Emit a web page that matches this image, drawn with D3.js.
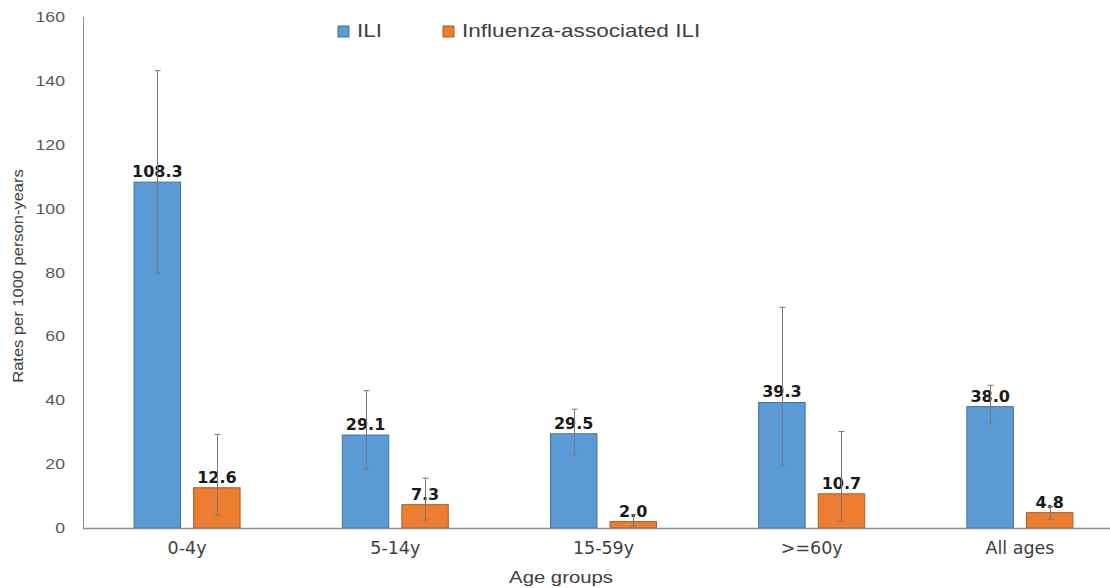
<!DOCTYPE html>
<html>
<head>
<meta charset="utf-8">
<script src="https://cdn.jsdelivr.net/npm/d3@7"></script>
<style>
  body { margin: 0; background: #fff; }
  svg { display: block; }
</style>
</head>
<body>
<svg id="chart"></svg>
<script>
  "use strict";

  // donnees
  var groups = ["0-4y", "5-14y", "15-59y", ">=60y", "All ages"];
  var series = ["ILI", "Influenza-associated ILI"];
  var ili = [108.3, 29.1, 29.5, 39.3, 38.0];
  var iliLow = [79.8, 18.5, 22.9, 19.5, 32.6];
  var iliHigh = [143.2, 43.0, 37.2, 69.1, 44.7];
  var flu = [12.6, 7.3, 2.0, 10.7, 4.8];
  var fluLow = [4.1, 2.5, 0.6, 2.2, 2.8];
  var fluHigh = [29.3, 15.6, 4.1, 30.2, 6.7];
  var yTicks = [0, 20, 40, 60, 80, 100, 120, 140, 160];

  var W = 1110, H = 588;
  var fills = ["#5b9bd5", "#ed7d31"];
  var strokes = ["#41719c", "#ae5a21"];
  var ARIAL = "'Liberation Sans', Arial, sans-serif";

  var svg = d3.select("#chart").attr("width", W).attr("height", H);

  var x = d3.scaleBand().domain(groups).range([83, 1124]);
  var sub = d3.scaleBand().domain(series).range([-53, 53]).paddingInner(0.22);
  var y = d3.scaleLinear().domain([0, 160]).range([528, 17]);

  // le graphique d'origine est un peu etire en largeur
  var stretched = function(sel, px, py, sx) {
    return sel.attr("transform", `translate(${px},${py}) scale(${sx},1)`);
  }

  // liste de lignes : une par barre
  var rows = [];
  groups.forEach(function(g, i) {
    rows.push({g: g, s: series[0], k: 0, v: ili[i], lo: iliLow[i], hi: iliHigh[i]});
    rows.push({g: g, s: series[1], k: 1, v: flu[i], lo: fluLow[i], hi: fluHigh[i]});
  });

  // axe y
  svg.append("line")
    .attr("x1", 83.5).attr("x2", 83.5)
    .attr("y1", y(160)).attr("y2", y(0))
    .attr("stroke", "#8c8c8c");

  svg.append("g")
    .selectAll("text")
    .data(yTicks)
    .enter().append("text")
    .each(function(d) { stretched(d3.select(this), 65, y(d), 1.22); })
    .attr("dy", "0.35em")
    .attr("text-anchor", "end")
    .attr("fill", "#595959")
    .style("font", "14.5px " + ARIAL)
    .text(d => d);

  svg.append("text")
    .attr("transform", "translate(23,276) scale(0.85,1) rotate(-90)")
    .attr("text-anchor", "middle")
    .attr("fill", "#404040")
    .style("font", "16.5px " + ARIAL)
    .text("Rates per 1000 person-years");

  // barres
  var bars = svg.append("g");
  bars.selectAll("rect")
    .data(rows)
    .enter().append("rect")
    .attr("x", d => x(d.g) + x.bandwidth() / 2 + sub(d.s))
    .attr("y", d => y(d.v))
    .attr("width", sub.bandwidth())
    .attr("height", d => y(0) - y(d.v))
    .attr("fill", d => fills[d.k])
    .attr("stroke", d => strokes[d.k])
    .attr("stroke-width", 1);

  // axe x
  svg.append("line")
    .attr("x1", 83).attr("x2", W)
    .attr("y1", 528.5).attr("y2", 528.5)
    .attr("stroke", "#8c8c8c")
    .attr("stroke-width", 1.5);

  svg.append("g")
    .selectAll("text")
    .data(groups)
    .enter().append("text")
    .attr("x", d => x(d) + x.bandwidth() / 2)
    .attr("y", 554)
    .attr("text-anchor", "middle")
    .attr("fill", "#404040")
    .style("font", "17.5px 'DejaVu Sans', Verdana, sans-serif")
    .text(d => d);

  stretched(svg.append("text"), 561, 583, 1.27)
    .attr("text-anchor", "middle")
    .attr("fill", "#404040")
    .style("font", "16px " + ARIAL)
    .text("Age groups");

  // etiquettes de valeur
  svg.append("g")
    .selectAll("text")
    .data(rows)
    .enter().append("text")
    .attr("x", d => x(d.g) + x.bandwidth() / 2 + sub(d.s) + sub.bandwidth() / 2)
    .attr("y", d => y(d.v) - 5)
    .attr("text-anchor", "middle")
    .attr("fill", "#1a1a1a")
    .style("font", "bold 16px 'DejaVu Sans', Verdana, sans-serif")
    .text(d => d.v.toFixed(1));

  // barres d'erreur
  var err = svg.append("g").attr("stroke", "#777").attr("stroke-width", 1);
  rows.forEach(function(d) {
    var cx = Math.round(x(d.g) + x.bandwidth() / 2 + sub(d.s) + sub.bandwidth() / 2) + 0.5;
    err.append("line").attr("x1", cx).attr("x2", cx).attr("y1", y(d.hi)).attr("y2", y(d.lo));
    err.append("line").attr("x1", cx - 3).attr("x2", cx + 3).attr("y1", y(d.hi)).attr("y2", y(d.hi));
    err.append("line").attr("x1", cx - 3).attr("x2", cx + 3).attr("y1", y(d.lo)).attr("y2", y(d.lo));
  });

  // legende
  var legX = [338, 443];
  var leg = svg.append("g");
  series.forEach(function(s, i) {
    leg.append("rect")
      .attr("x", legX[i]).attr("y", 26)
      .attr("width", 11).attr("height", 11)
      .attr("fill", fills[i])
      .attr("stroke", strokes[i]);
    stretched(leg.append("text"), legX[i] + 19, 31, 1.22)
      .attr("dy", "0.35em")
      .attr("fill", "#404040")
      .style("font", "18.5px " + ARIAL)
      .text(s);
  });
</script>
</body>
</html>
